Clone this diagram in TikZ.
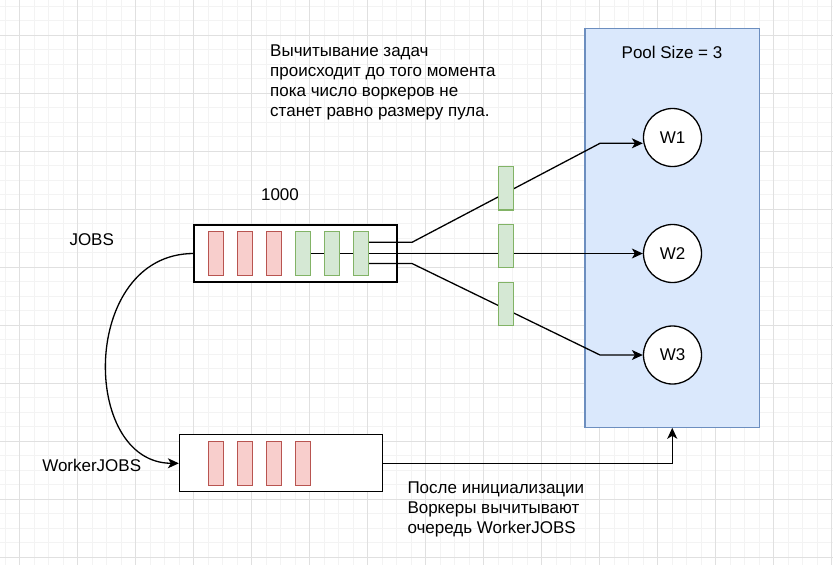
\documentclass[tikz,border=0pt]{standalone}
\usepackage{fontspec}
\setmainfont{Liberation Sans}
\usetikzlibrary{arrows.meta,calc}
\definecolor{redfill}{HTML}{F8CECC}
\definecolor{redline}{HTML}{B85450}
\definecolor{greenfill}{HTML}{D5E8D4}
\definecolor{greenline}{HTML}{82B366}
\definecolor{poolfill}{HTML}{DAE8FC}
\definecolor{poolline}{HTML}{6C8EBF}
\definecolor{gridminor}{HTML}{F3F3F3}
\definecolor{gridmajor}{HTML}{E0E0E0}
\pgfdeclarelayer{background}
\pgfdeclarelayer{boxes}
\pgfdeclarelayer{lines}
\pgfsetlayers{background,boxes,lines,main}

\begin{document}
\begin{tikzpicture}[x=1pt,y=-1pt,
    every node/.style={font=\fontsize{17}{20}\selectfont,inner sep=0pt},
    queue/.style={draw,fill=white,line width=1.3pt,minimum width=203,minimum height=57},
    redjob/.style={draw=redline,fill=redfill,line width=1.3pt,minimum width=15,minimum height=44},
    greenjob/.style={draw=greenline,fill=greenfill,line width=1.3pt,minimum width=15,minimum height=44},
    worker/.style={draw,circle,fill=white,line width=1.3pt,minimum size=58},
    arr/.style={line width=1.3pt,-{Stealth[length=11pt,width=10pt,inset=3pt]}}]
    \useasboundingbox (0,0) rectangle (833,565);
    \begin{pgfonlayer}{background}
        % Draw grid
        \foreach \i in {0,...,57}
            \draw[gridminor,line width=1pt] ({5+14.5*\i},0) -- ++(0,565);
        \foreach \i in {0,...,38}
            \draw[gridminor,line width=1pt] (0,{6+14.5*\i}) -- ++(833,0);
        \foreach \i in {0,...,14}
            \draw[gridmajor,line width=1pt] ({19.5+58*\i},0) -- ++(0,565);
        \foreach \i in {0,...,9}
            \draw[gridmajor,line width=1pt] (0,{35+58*\i}) -- ++(833,0);
        % Draw the pool
        \node[draw=poolline,fill=poolfill,line width=1.3pt,minimum width=174.5,minimum height=399] (pool) at (672.25,227.65) {};
    \end{pgfonlayer}
    \begin{pgfonlayer}{boxes}
        % Draw the two queues
        \node[queue] (jobs) at (295.5,253.5) {};
        \node[queue] (wjobs) at (281,463.3) {};
    \end{pgfonlayer}
    \foreach \i in {1,2,3} {
        \node[redjob] (r\i) at ({186.8+29*\i},253.5) {};
        \node[greenjob] (g\i) at ({273.8+29*\i},253.5) {};
    }
    \foreach \i in {1,...,4}
        \node[redjob] (wr\i) at ({186.8+29*\i},463.7) {};
    % Jobs on their way to the workers
    \node[greenjob,minimum height=43.5] (m1) at (506,188.3) {};
    \node[greenjob,minimum height=43.5] (m2) at (506,246) {};
    \node[greenjob,minimum height=43.5] (m3) at (506,304) {};
    % Workers
    \node[worker] (W1) at (672.5,137.5) {W1};
    \node[worker] (W2) at (672.5,253.5) {W2};
    \node[worker] (W3) at (672.5,355) {W3};
    % Labels
    \node (poolsize) at (672,52) {Pool Size = 3};
    \node (jobslabel) at (91.7,240) {JOBS};
    \node (count) at (280,195) {1000};
    \node (wjobslabel) at (91.7,465) {WorkerJOBS};
    \node[align=left,anchor=west] (note) at (270,82)
        {Вычитывание задач\\происходит до того момента\\пока число воркеров не\\станет равно размеру пула.};
    \node[align=left,anchor=west] (after) at (407.3,509)
        {После инициализации\\Воркеры вычитывают\\очередь WorkerJOBS};
    \begin{pgfonlayer}{lines}
        % Draw connectors
        \coordinate (b1) at (412,242.3);
        \coordinate (b2) at (600,143.3);
        \coordinate (b3) at (412,263.5);
        \coordinate (b4) at (600,355);
        \draw[arr] ($(g3.east)+(0,-11.2)$) -- (b1) -- (b2) -- (b2 -| W1.west);
        \draw[arr] (g1) -- (W2);
        \draw[arr] ($(g3.east)+(0,10)$) -- (b3) -- (b4) -- (W3);
        \draw[arr] (jobs.west) .. controls (80,254) and (80,463) .. (wjobs.west);
        \draw[arr] (wjobs.east) -| (pool.south);
    \end{pgfonlayer}
\end{tikzpicture}
\end{document}
